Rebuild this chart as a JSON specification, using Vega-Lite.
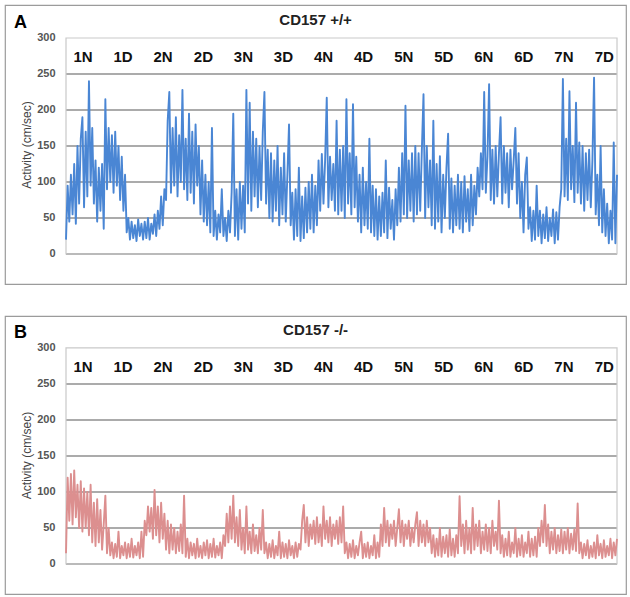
{
"$schema": "https://vega.github.io/schema/vega-lite/v6.json",
"padding": {"left": 4, "top": 4, "right": 4, "bottom": 3},
"autosize": {"type": "pad"},
"spacing": 30,
"config": {"view": {"stroke": "#9b9b9b", "strokeWidth": 1.2}, "font": "Liberation Sans",
 "axisY": {"values": [0,50,100,150,200,250,300], "offset": -61, "grid": false, "domain": false, "ticks": false, "labelPadding": 11, "labelFontSize": 11, "labelFontWeight": "bold", "labelColor": "#555555", "titleFontSize": 12, "titleFontWeight": "normal", "titleColor": "#444444", "titlePadding": 3}},
"datasets": {
"act": [
{"t":0,"w":20,"k":15},{"t":0.5,"w":95,"k":120},{"t":1,"w":45,"k":60},{"t":1.5,"w":110,"k":125},{"t":2,"w":55,"k":55},{"t":2.5,"w":125,"k":130},{"t":3,"w":42,"k":65},{"t":3.5,"w":150,"k":110},{"t":4,"w":70,"k":50},{"t":4.5,"w":160,"k":115},{"t":5,"w":190,"k":45},{"t":5.5,"w":65,"k":105},{"t":6,"w":170,"k":50},{"t":6.5,"w":80,"k":100},{"t":7,"w":240,"k":40},{"t":7.5,"w":95,"k":110},{"t":8,"w":175,"k":30},{"t":8.5,"w":70,"k":85},{"t":9,"w":130,"k":25},{"t":9.5,"w":45,"k":90},{"t":10,"w":120,"k":30},{"t":10.5,"w":60,"k":75},{"t":11,"w":125,"k":20},{"t":11.5,"w":35,"k":55},
{"t":12,"w":215,"k":95},{"t":12.5,"w":90,"k":15},{"t":13,"w":175,"k":50},{"t":13.5,"w":100,"k":12},{"t":14,"w":165,"k":30},{"t":14.5,"w":85,"k":8},{"t":15,"w":170,"k":28},{"t":15.5,"w":95,"k":10},{"t":16,"w":150,"k":45},{"t":16.5,"w":75,"k":8},{"t":17,"w":135,"k":25},{"t":17.5,"w":60,"k":12},{"t":18,"w":110,"k":30},{"t":18.5,"w":30,"k":8},{"t":19,"w":50,"k":28},{"t":19.5,"w":20,"k":10},{"t":20,"w":45,"k":35},{"t":20.5,"w":22,"k":9},{"t":21,"w":40,"k":25},{"t":21.5,"w":18,"k":12},{"t":22,"w":48,"k":30},{"t":22.5,"w":25,"k":8},{"t":23,"w":42,"k":45},{"t":23.5,"w":20,"k":10},
{"t":24,"w":45,"k":60},{"t":24.5,"w":22,"k":40},{"t":25,"w":50,"k":80},{"t":25.5,"w":20,"k":45},{"t":26,"w":42,"k":78},{"t":26.5,"w":28,"k":35},{"t":27,"w":55,"k":103},{"t":27.5,"w":25,"k":40},{"t":28,"w":60,"k":80},{"t":28.5,"w":35,"k":30},{"t":29,"w":80,"k":85},{"t":29.5,"w":40,"k":35},{"t":30,"w":90,"k":70},{"t":30.5,"w":75,"k":20},{"t":31,"w":185,"k":60},{"t":31.5,"w":225,"k":15},{"t":32,"w":85,"k":55},{"t":32.5,"w":175,"k":20},{"t":33,"w":95,"k":50},{"t":33.5,"w":190,"k":15},{"t":34,"w":80,"k":45},{"t":34.5,"w":165,"k":18},{"t":35,"w":100,"k":55},{"t":35.5,"w":228,"k":15},
{"t":36,"w":90,"k":95},{"t":36.5,"w":160,"k":10},{"t":37,"w":75,"k":35},{"t":37.5,"w":195,"k":8},{"t":38,"w":85,"k":30},{"t":38.5,"w":170,"k":12},{"t":39,"w":70,"k":28},{"t":39.5,"w":180,"k":8},{"t":40,"w":95,"k":35},{"t":40.5,"w":150,"k":10},{"t":41,"w":55,"k":25},{"t":41.5,"w":130,"k":8},{"t":42,"w":45,"k":30},{"t":42.5,"w":110,"k":12},{"t":43,"w":40,"k":33},{"t":43.5,"w":100,"k":8},{"t":44,"w":30,"k":28},{"t":44.5,"w":175,"k":10},{"t":45,"w":25,"k":35},{"t":45.5,"w":60,"k":9},{"t":46,"w":20,"k":25},{"t":46.5,"w":55,"k":12},{"t":47,"w":30,"k":30},{"t":47.5,"w":90,"k":8},
{"t":48,"w":25,"k":40},{"t":48.5,"w":50,"k":25},{"t":49,"w":18,"k":70},{"t":49.5,"w":60,"k":30},{"t":50,"w":30,"k":80},{"t":50.5,"w":85,"k":35},{"t":51,"w":195,"k":95},{"t":51.5,"w":25,"k":30},{"t":52,"w":90,"k":65},{"t":52.5,"w":20,"k":25},{"t":53,"w":100,"k":75},{"t":53.5,"w":35,"k":20},{"t":54,"w":95,"k":50},{"t":54.5,"w":30,"k":15},{"t":55,"w":228,"k":80},{"t":55.5,"w":70,"k":20},{"t":56,"w":210,"k":45},{"t":56.5,"w":60,"k":15},{"t":57,"w":170,"k":55},{"t":57.5,"w":80,"k":18},{"t":58,"w":160,"k":40},{"t":58.5,"w":65,"k":15},{"t":59,"w":150,"k":50},{"t":59.5,"w":75,"k":20},
{"t":60,"w":170,"k":75},{"t":60.5,"w":225,"k":15},{"t":61,"w":70,"k":30},{"t":61.5,"w":145,"k":8},{"t":62,"w":50,"k":28},{"t":62.5,"w":140,"k":10},{"t":63,"w":45,"k":33},{"t":63.5,"w":130,"k":8},{"t":64,"w":60,"k":25},{"t":64.5,"w":150,"k":12},{"t":65,"w":40,"k":45},{"t":65.5,"w":120,"k":8},{"t":66,"w":55,"k":30},{"t":66.5,"w":140,"k":10},{"t":67,"w":45,"k":28},{"t":67.5,"w":110,"k":8},{"t":68,"w":180,"k":33},{"t":68.5,"w":40,"k":12},{"t":69,"w":85,"k":25},{"t":69.5,"w":20,"k":8},{"t":70,"w":90,"k":30},{"t":70.5,"w":25,"k":10},{"t":71,"w":120,"k":28},{"t":71.5,"w":18,"k":20},
{"t":72,"w":80,"k":60},{"t":72.5,"w":22,"k":82},{"t":73,"w":92,"k":30},{"t":73.5,"w":30,"k":65},{"t":74,"w":100,"k":25},{"t":74.5,"w":35,"k":55},{"t":75,"w":110,"k":35},{"t":75.5,"w":30,"k":60},{"t":76,"w":95,"k":28},{"t":76.5,"w":40,"k":65},{"t":77,"w":130,"k":30},{"t":77.5,"w":60,"k":55},{"t":78,"w":139,"k":25},{"t":78.5,"w":70,"k":80},{"t":79,"w":130,"k":35},{"t":79.5,"w":217,"k":60},{"t":80,"w":65,"k":30},{"t":80.5,"w":135,"k":65},{"t":81,"w":75,"k":25},{"t":81.5,"w":125,"k":55},{"t":82,"w":60,"k":35},{"t":82.5,"w":185,"k":60},{"t":83,"w":55,"k":28},{"t":83.5,"w":145,"k":65},
{"t":84,"w":60,"k":30},{"t":84.5,"w":150,"k":80},{"t":85,"w":50,"k":15},{"t":85.5,"w":215,"k":30},{"t":86,"w":70,"k":8},{"t":86.5,"w":140,"k":28},{"t":87,"w":55,"k":10},{"t":87.5,"w":208,"k":33},{"t":88,"w":65,"k":8},{"t":88.5,"w":135,"k":25},{"t":89,"w":45,"k":12},{"t":89.5,"w":110,"k":30},{"t":90,"w":30,"k":45},{"t":90.5,"w":120,"k":8},{"t":91,"w":40,"k":28},{"t":91.5,"w":100,"k":10},{"t":92,"w":35,"k":30},{"t":92.5,"w":160,"k":8},{"t":93,"w":30,"k":25},{"t":93.5,"w":95,"k":12},{"t":94,"w":25,"k":40},{"t":94.5,"w":90,"k":8},{"t":95,"w":20,"k":30},{"t":95.5,"w":80,"k":10},
{"t":96,"w":25,"k":55},{"t":96.5,"w":85,"k":25},{"t":97,"w":30,"k":78},{"t":97.5,"w":130,"k":30},{"t":98,"w":22,"k":60},{"t":98.5,"w":92,"k":25},{"t":99,"w":35,"k":55},{"t":99.5,"w":75,"k":35},{"t":100,"w":20,"k":60},{"t":100.5,"w":90,"k":25},{"t":101,"w":40,"k":50},{"t":101.5,"w":120,"k":76},{"t":102,"w":45,"k":30},{"t":102.5,"w":140,"k":60},{"t":103,"w":55,"k":25},{"t":103.5,"w":206,"k":55},{"t":104,"w":50,"k":35},{"t":104.5,"w":130,"k":60},{"t":105,"w":60,"k":25},{"t":105.5,"w":140,"k":50},{"t":106,"w":45,"k":30},{"t":106.5,"w":150,"k":55},{"t":107,"w":55,"k":72},{"t":107.5,"w":140,"k":25},
{"t":108,"w":60,"k":60},{"t":108.5,"w":145,"k":30},{"t":109,"w":222,"k":55},{"t":109.5,"w":50,"k":25},{"t":110,"w":150,"k":60},{"t":110.5,"w":65,"k":30},{"t":111,"w":130,"k":50},{"t":111.5,"w":40,"k":15},{"t":112,"w":185,"k":40},{"t":112.5,"w":35,"k":10},{"t":113,"w":125,"k":35},{"t":113.5,"w":45,"k":12},{"t":114,"w":136,"k":50},{"t":114.5,"w":30,"k":10},{"t":115,"w":110,"k":38},{"t":115.5,"w":50,"k":15},{"t":116,"w":120,"k":40},{"t":116.5,"w":167,"k":10},{"t":117,"w":35,"k":48},{"t":117.5,"w":105,"k":12},{"t":118,"w":30,"k":35},{"t":118.5,"w":95,"k":10},{"t":119,"w":40,"k":40},{"t":119.5,"w":110,"k":15},
{"t":120,"w":35,"k":94},{"t":120.5,"w":100,"k":25},{"t":121,"w":30,"k":55},{"t":121.5,"w":108,"k":15},{"t":122,"w":45,"k":60},{"t":122.5,"w":90,"k":20},{"t":123,"w":32,"k":50},{"t":123.5,"w":110,"k":15},{"t":124,"w":40,"k":78},{"t":124.5,"w":95,"k":20},{"t":125,"w":55,"k":55},{"t":125.5,"w":120,"k":25},{"t":126,"w":80,"k":60},{"t":126.5,"w":140,"k":15},{"t":127,"w":90,"k":45},{"t":127.5,"w":225,"k":20},{"t":128,"w":85,"k":55},{"t":128.5,"w":135,"k":18},{"t":129,"w":236,"k":50},{"t":129.5,"w":75,"k":15},{"t":130,"w":145,"k":60},{"t":130.5,"w":70,"k":25},{"t":131,"w":150,"k":45},{"t":131.5,"w":80,"k":20},
{"t":132,"w":140,"k":88},{"t":132.5,"w":190,"k":15},{"t":133,"w":70,"k":40},{"t":133.5,"w":150,"k":10},{"t":134,"w":85,"k":35},{"t":134.5,"w":140,"k":12},{"t":135,"w":65,"k":45},{"t":135.5,"w":145,"k":10},{"t":136,"w":90,"k":30},{"t":136.5,"w":130,"k":15},{"t":137,"w":175,"k":50},{"t":137.5,"w":70,"k":10},{"t":138,"w":140,"k":35},{"t":138.5,"w":50,"k":12},{"t":139,"w":100,"k":40},{"t":139.5,"w":30,"k":10},{"t":140,"w":110,"k":30},{"t":140.5,"w":134,"k":15},{"t":141,"w":35,"k":45},{"t":141.5,"w":65,"k":10},{"t":142,"w":18,"k":35},{"t":142.5,"w":60,"k":12},{"t":143,"w":20,"k":38},{"t":143.5,"w":95,"k":10},
{"t":144,"w":25,"k":50},{"t":144.5,"w":60,"k":25},{"t":145,"w":15,"k":60},{"t":145.5,"w":55,"k":30},{"t":146,"w":22,"k":82},{"t":146.5,"w":65,"k":25},{"t":147,"w":18,"k":55},{"t":147.5,"w":50,"k":15},{"t":148,"w":25,"k":45},{"t":148.5,"w":62,"k":20},{"t":149,"w":15,"k":50},{"t":149.5,"w":58,"k":15},{"t":150,"w":20,"k":40},{"t":150.5,"w":65,"k":18},{"t":151,"w":90,"k":48},{"t":151.5,"w":243,"k":15},{"t":152,"w":80,"k":45},{"t":152.5,"w":160,"k":20},{"t":153,"w":75,"k":50},{"t":153.5,"w":226,"k":15},{"t":154,"w":90,"k":42},{"t":154.5,"w":150,"k":20},{"t":155,"w":72,"k":48},{"t":155.5,"w":210,"k":18},
{"t":156,"w":85,"k":84},{"t":156.5,"w":155,"k":15},{"t":157,"w":70,"k":30},{"t":157.5,"w":150,"k":8},{"t":158,"w":60,"k":28},{"t":158.5,"w":140,"k":12},{"t":159,"w":75,"k":33},{"t":159.5,"w":145,"k":8},{"t":160,"w":65,"k":25},{"t":160.5,"w":130,"k":10},{"t":161,"w":245,"k":30},{"t":161.5,"w":55,"k":8},{"t":162,"w":110,"k":40},{"t":162.5,"w":40,"k":12},{"t":163,"w":150,"k":28},{"t":163.5,"w":30,"k":8},{"t":164,"w":90,"k":33},{"t":164.5,"w":25,"k":10},{"t":165,"w":70,"k":25},{"t":165.5,"w":15,"k":12},{"t":166,"w":60,"k":35},{"t":166.5,"w":20,"k":8},{"t":167,"w":155,"k":30},{"t":167.5,"w":15,"k":12},{"t":168,"w":110,"k":35}
],
"grid": [{"g":0},{"g":50},{"g":100},{"g":150},{"g":200},{"g":250}],
"days": [{"d":"1N","t":5.2},{"d":"1D","t":17.4},{"d":"2N","t":29.6},{"d":"2D","t":41.9},{"d":"3N","t":54.1},{"d":"3D","t":66.3},{"d":"4N","t":78.5},{"d":"4D","t":90.7},{"d":"5N","t":103.0},{"d":"5D","t":115.2},{"d":"6N","t":127.4},{"d":"6D","t":139.6},{"d":"7N","t":151.8},{"d":"7D","t":164.1}],
"one": [{"a":1}]
},
"vconcat": [
{
"width": 621, "height": 279,
"layer": [
{"data": {"name": "grid"}, "mark": {"type": "rule", "color": "#8f8f8f", "strokeWidth": 1.3},
 "encoding": {"x": {"datum": 0, "type": "quantitative", "scale": {"domain": [-18.6, 170.74], "nice": false, "zero": false}, "axis": null}, "x2": {"datum": 168},
  "y": {"field": "g", "type": "quantitative", "scale": {"domain": [-41.67, 345.83], "nice": false, "zero": false}, "title": "Activity (cm/sec)"}}},
{"data": {"name": "one"}, "mark": {"type": "rect", "fill": "transparent", "stroke": "#c9c9c9", "strokeWidth": 1.2},
 "encoding": {"x": {"datum": 0, "type": "quantitative", "axis": null}, "x2": {"datum": 168}, "y": {"datum": 0, "type": "quantitative", "title": "Activity (cm/sec)"}, "y2": {"datum": 300}}},
{"data": {"name": "act"}, "mark": {"type": "line", "color": "#4a86d4", "strokeWidth": 1.9, "strokeJoin": "round"},
 "encoding": {"x": {"field": "t", "type": "quantitative", "axis": null}, "y": {"field": "w", "type": "quantitative", "title": "Activity (cm/sec)"}}},
{"data": {"name": "days"}, "mark": {"type": "text", "fontSize": 15, "fontWeight": "bold", "color": "#111111", "align": "center", "baseline": "alphabetic"},
 "encoding": {"x": {"field": "t", "type": "quantitative", "axis": null}, "y": {"datum": 266.7, "type": "quantitative", "title": "Activity (cm/sec)"}, "text": {"field": "d"}}},
{"data": {"values": [{"label": "CD157 +/+"}]}, "mark": {"type": "text", "fontSize": 15, "fontWeight": "bold", "color": "#222222", "align": "center", "baseline": "alphabetic"},
 "encoding": {"x": {"datum": 76.1, "type": "quantitative", "axis": null}, "y": {"datum": 318, "type": "quantitative", "title": "Activity (cm/sec)"}, "text": {"field": "label"}}},
{"data": {"values": [{"label": "A"}]}, "mark": {"type": "text", "fontSize": 18, "fontWeight": "bold", "color": "#000000", "align": "center", "baseline": "alphabetic"},
 "encoding": {"x": {"datum": -13.9, "type": "quantitative", "axis": null}, "y": {"datum": 314, "type": "quantitative", "title": "Activity (cm/sec)"}, "text": {"field": "label"}}}
]
},
{
"width": 621, "height": 278,
"layer": [
{"data": {"name": "grid"}, "mark": {"type": "rule", "color": "#8f8f8f", "strokeWidth": 1.3},
 "encoding": {"x": {"datum": 0, "type": "quantitative", "scale": {"domain": [-18.6, 170.74], "nice": false, "zero": false}, "axis": null}, "x2": {"datum": 168},
  "y": {"field": "g", "type": "quantitative", "scale": {"domain": [-41.67, 344.4], "nice": false, "zero": false}, "title": "Activity (cm/sec)"}}},
{"data": {"name": "one"}, "mark": {"type": "rect", "fill": "transparent", "stroke": "#c9c9c9", "strokeWidth": 1.2},
 "encoding": {"x": {"datum": 0, "type": "quantitative", "axis": null}, "x2": {"datum": 168}, "y": {"datum": 0, "type": "quantitative", "title": "Activity (cm/sec)"}, "y2": {"datum": 300}}},
{"data": {"name": "act"}, "mark": {"type": "line", "color": "#dc8f8f", "strokeWidth": 1.9, "strokeJoin": "round"},
 "encoding": {"x": {"field": "t", "type": "quantitative", "axis": null}, "y": {"field": "k", "type": "quantitative", "title": "Activity (cm/sec)"}}},
{"data": {"name": "days"}, "mark": {"type": "text", "fontSize": 15, "fontWeight": "bold", "color": "#111111", "align": "center", "baseline": "alphabetic"},
 "encoding": {"x": {"field": "t", "type": "quantitative", "axis": null}, "y": {"datum": 266.7, "type": "quantitative", "title": "Activity (cm/sec)"}, "text": {"field": "d"}}},
{"data": {"values": [{"label": "CD157 -/-"}]}, "mark": {"type": "text", "fontSize": 15, "fontWeight": "bold", "color": "#222222", "align": "center", "baseline": "alphabetic"},
 "encoding": {"x": {"datum": 76.1, "type": "quantitative", "axis": null}, "y": {"datum": 318, "type": "quantitative", "title": "Activity (cm/sec)"}, "text": {"field": "label"}}},
{"data": {"values": [{"label": "B"}]}, "mark": {"type": "text", "fontSize": 18, "fontWeight": "bold", "color": "#000000", "align": "center", "baseline": "alphabetic"},
 "encoding": {"x": {"datum": -13.9, "type": "quantitative", "axis": null}, "y": {"datum": 314, "type": "quantitative", "title": "Activity (cm/sec)"}, "text": {"field": "label"}}}
]
}
]
}
